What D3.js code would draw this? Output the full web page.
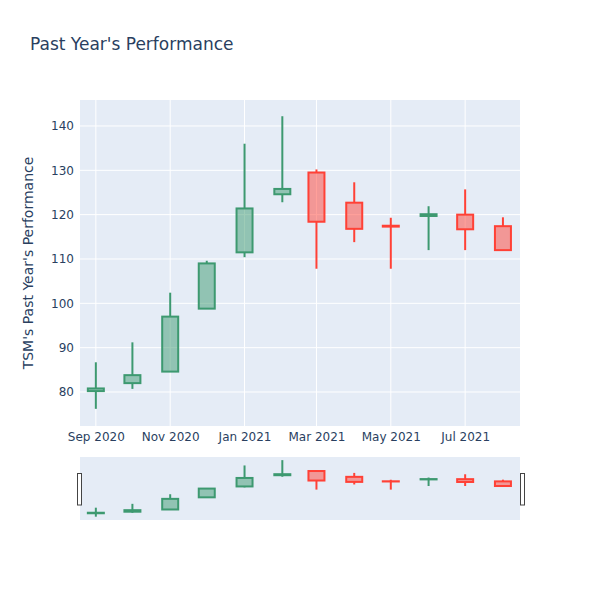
<!DOCTYPE html>
<html>
<head>
<meta charset="utf-8">
<script src="https://cdn.jsdelivr.net/npm/d3@7"></script>
<style>
  body { margin: 0; background: #fff; }
  text { font-family: "DejaVu Sans", sans-serif; fill: #2a3f5f; }
</style>
</head>
<body>
<div id="chart"></div>
<script>
// monthly candles, Sep 2020 .. Aug 2021
const dates = ["2020-09-01", "2020-10-01", "2020-11-01", "2020-12-01", "2021-01-01", "2021-02-01",
               "2021-03-01", "2021-04-01", "2021-05-01", "2021-06-01", "2021-07-01", "2021-08-01"];
const opens  = [80.2, 82.0, 84.6, 98.8, 111.5, 124.6, 129.5, 122.7, 117.5, 119.7, 120.0, 117.4];
const highs  = [86.7, 91.2, 102.4, 109.6, 136.0, 142.2, 130.2, 127.3, 119.3, 121.9, 125.7, 119.4];
const lows   = [76.2, 80.7, 84.6, 98.8, 110.4, 122.8, 107.8, 113.8, 107.8, 112.0, 112.0, 112.0];
const closes = [80.8, 83.8, 97.0, 109.0, 121.4, 125.8, 118.4, 116.8, 117.3, 120.1, 116.7, 112.0];
const yTicks = [80, 90, 100, 110, 120, 130, 140];

const parse = d3.timeParse("%Y-%m-%d");
const data = dates.map((d, i) => ({
  date: parse(d), open: opens[i], high: highs[i], low: lows[i], close: closes[i]
}));

const width = 600, height = 600;
const plot = {left: 80, right: 520, top: 100, bottom: 426};
const slider = {top: 457, bottom: 520};

const svg = d3.select("#chart").append("svg")
    .attr("width", width)
    .attr("height", height);

let x = d3.scaleTime()
    .domain([parse("2020-08-19"), parse("2021-08-15")])
    .range([plot.left, plot.right]);
let y = d3.scaleLinear()
    .domain([72.33, 145.86])
    .range([plot.bottom, plot.top]);
let ySlider = d3.scaleLinear()
    .domain([72.33, 145.86])
    .range([slider.bottom, slider.top]);

const incColor = "#3D9970", decColor = "#FF4136";
const boxW = 16;

// plot background
svg.append("rect")
    .attr("x", plot.left).attr("y", plot.top)
    .attr("width", plot.right - plot.left).attr("height", plot.bottom - plot.top)
    .attr("fill", "#E5ECF6");

// grid
let xTicks = d3.timeMonth.every(2).range(parse("2020-09-01"), parse("2021-08-02"));
svg.append("g").selectAll("line").data(yTicks).enter().append("line")
    .attr("x1", plot.left).attr("x2", plot.right)
    .attr("y1", d => y(d)).attr("y2", d => y(d))
    .attr("stroke", "#fff").attr("stroke-width", 1);
svg.append("g").selectAll("line").data(xTicks).enter().append("line")
    .attr("x1", d => x(d)).attr("x2", d => x(d))
    .attr("y1", plot.top).attr("y2", plot.bottom)
    .attr("stroke", "#fff").attr("stroke-width", 1);

// axes (labels only)
let xaxis = d3.axisBottom(x).tickValues(xTicks).tickFormat(d3.timeFormat("%b %Y")).tickSize(0).tickPadding(6);
let yaxis = d3.axisLeft(y).tickValues(yTicks).tickSize(0).tickPadding(4);

let xaxisSel = svg.append("g").attr("transform", `translate(0, ${plot.bottom})`).call(xaxis);
let yaxisSel = svg.append("g").attr("transform", `translate(${plot.left - 2}, 0)`).call(yaxis);
[xaxisSel, yaxisSel].forEach(s => {
  s.select(".domain").remove();
  s.selectAll("text").style("font-size", "12px").attr("fill", "#2a3f5f")
      .style("font-family", "'DejaVu Sans', sans-serif");
});

// candles
function drawCandles(g, ys) {
  let c = g.selectAll("g.candle").data(data).enter().append("g").attr("class", "candle");
  let color = d => d.close >= d.open ? incColor : decColor;
  c.append("line")
      .attr("x1", d => x(d.date)).attr("x2", d => x(d.date))
      .attr("y1", d => ys(d.high)).attr("y2", d => ys(Math.max(d.open, d.close)))
      .attr("stroke", color).attr("stroke-width", 2);
  c.append("line")
      .attr("x1", d => x(d.date)).attr("x2", d => x(d.date))
      .attr("y1", d => ys(Math.min(d.open, d.close))).attr("y2", d => ys(d.low))
      .attr("stroke", color).attr("stroke-width", 2);
  c.append("rect")
      .attr("x", d => x(d.date) - boxW / 2)
      .attr("y", d => ys(Math.max(d.open, d.close)))
      .attr("width", boxW)
      .attr("height", d => Math.abs(ys(d.open) - ys(d.close)))
      .attr("fill", color).attr("fill-opacity", 0.5)
      .attr("stroke", color).attr("stroke-width", 2);
}
drawCandles(svg.append("g"), y);

// range slider
svg.append("rect")
    .attr("x", plot.left).attr("y", slider.top)
    .attr("width", plot.right - plot.left).attr("height", slider.bottom - slider.top)
    .attr("fill", "#E5ECF6");
drawCandles(svg.append("g"), ySlider);
[plot.left - 2.5, plot.right + 0.5].forEach(hx => {
  svg.append("rect")
      .attr("x", hx).attr("y", 473.5)
      .attr("width", 4).attr("height", 31.5)
      .attr("fill", "#fff").attr("stroke", "#444").attr("stroke-width", 1);
});

// titles
svg.append("text")
    .attr("x", 30).attr("y", 50)
    .style("font-size", "17px")
    .text("Past Year's Performance");
svg.append("text")
    .attr("transform", `translate(33, ${(plot.top + plot.bottom) / 2}) rotate(-90)`)
    .attr("text-anchor", "middle")
    .style("font-size", "14px")
    .text("TSM's Past Year's Performance");
</script>
</body>
</html>
